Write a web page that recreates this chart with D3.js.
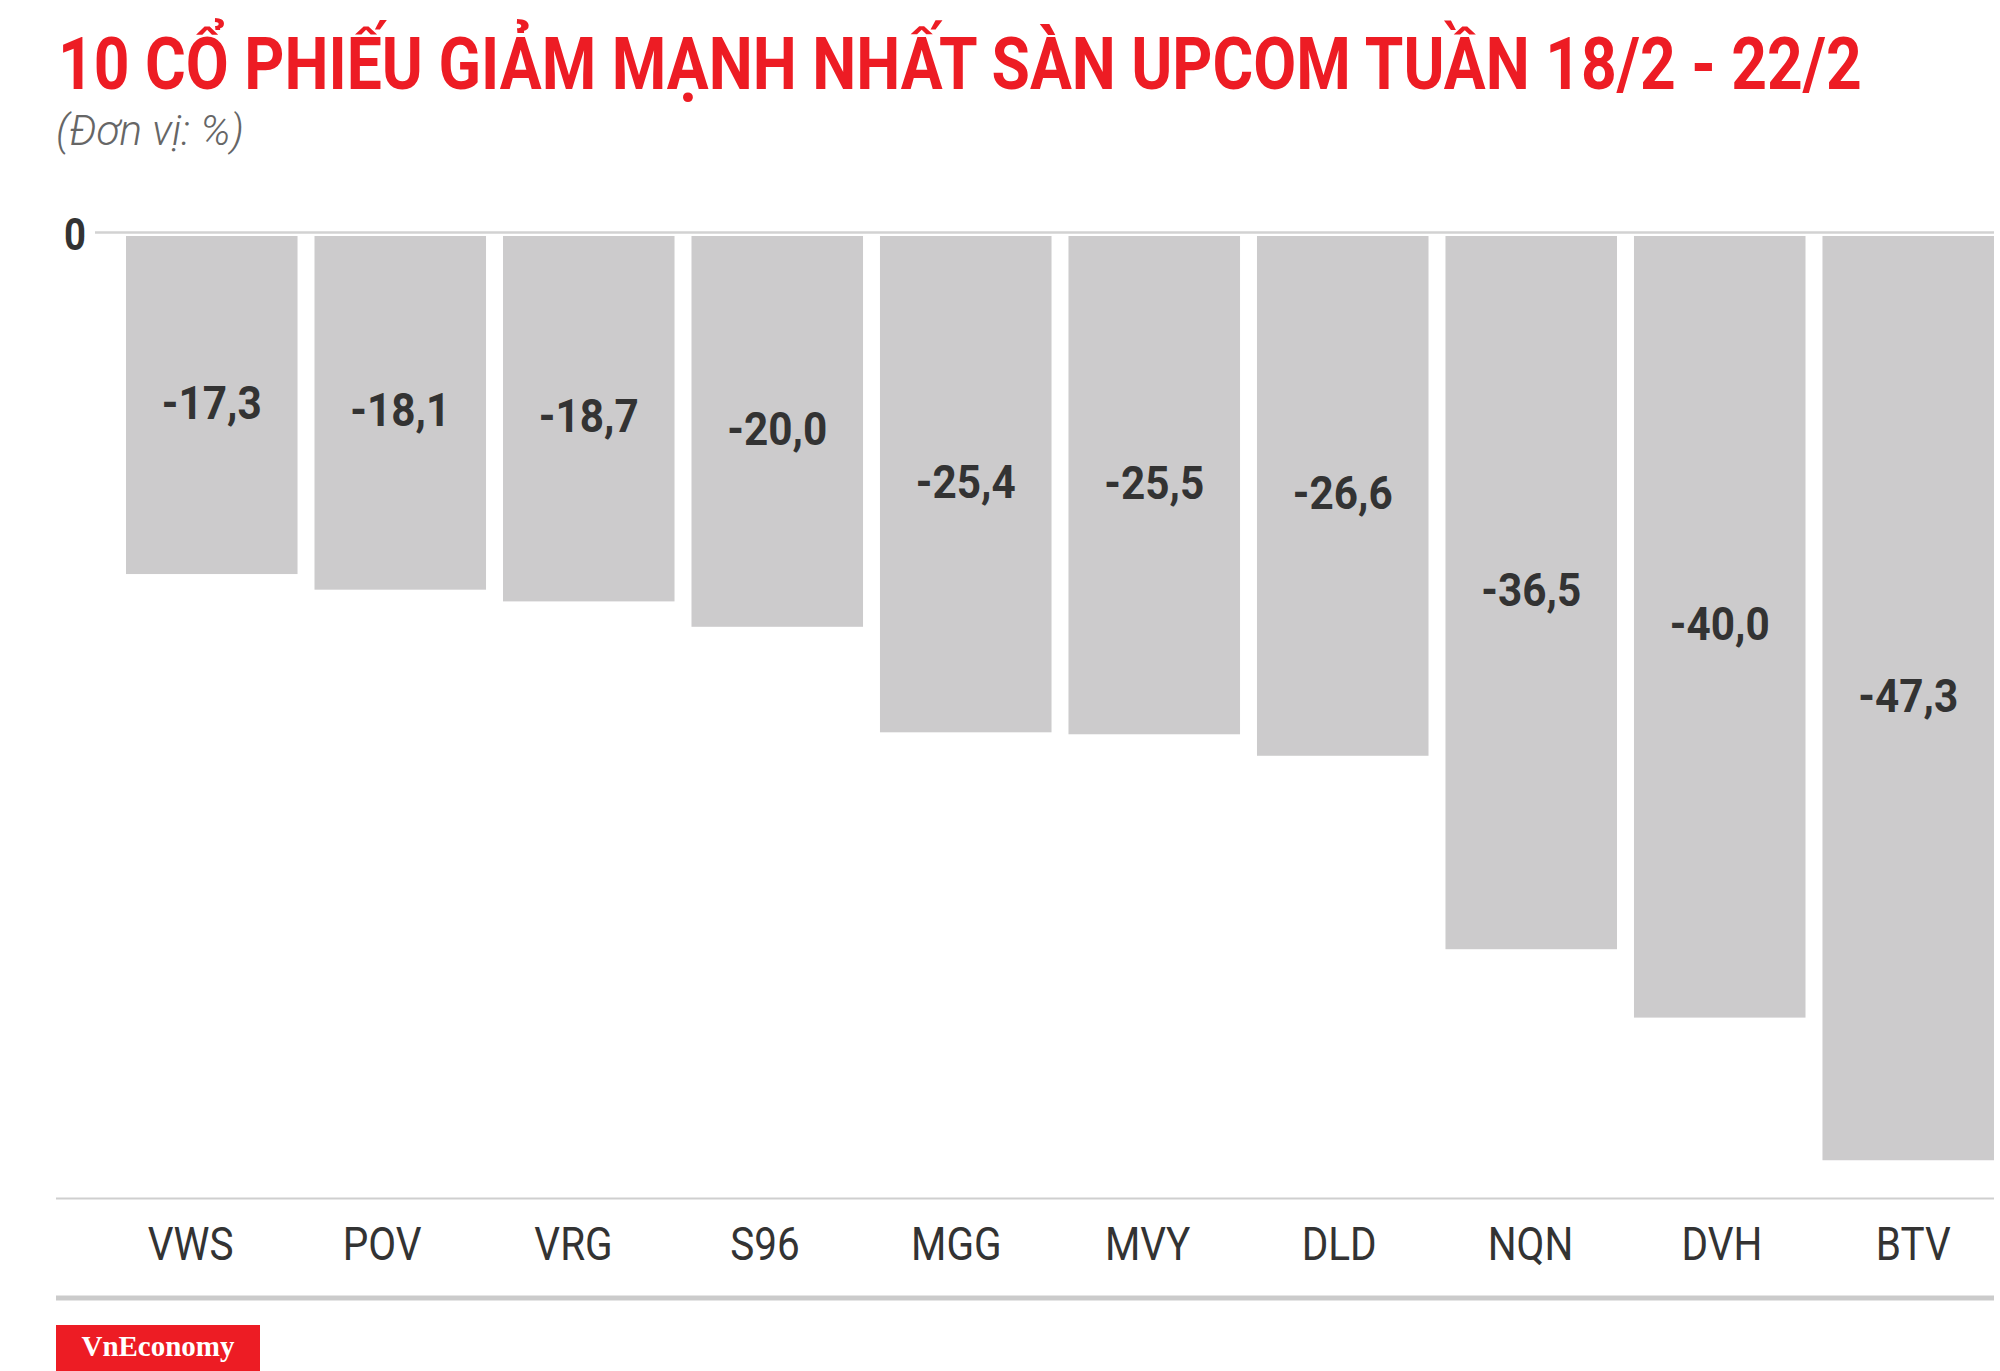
<!DOCTYPE html>
<html>
<head>
<meta charset="utf-8">
<script src="https://cdn.jsdelivr.net/npm/d3@7"></script>
<style>
  html, body { margin: 0; padding: 0; background: #fff; }
  svg { display: block; }
</style>
</head>
<body>
<svg id="chart" width="2000" height="1371"></svg>
<script>
const categories = ["VWS", "POV", "VRG", "S96", "MGG", "MVY", "DLD", "NQN", "DVH", "BTV"];
const values = [-17.3, -18.1, -18.7, -20.0, -25.4, -25.5, -26.6, -36.5, -40.0, -47.3];
const valueLabels = ["-17,3", "-18,1", "-18,7", "-20,0", "-25,4", "-25,5", "-26,6", "-36,5", "-40,0", "-47,3"];
const yTicks = [0];
const titleText = "10 CỔ PHIẾU GIẢM MẠNH NHẤT SÀN UPCOM TUẦN 18/2 - 22/2";
const subtitleText = "(Đơn vị: %)";
const brandText = "VnEconomy";

const svg = d3.select("#chart");

// bar positions
const x = d3.scaleBand()
  .domain(categories)
  .range([126, 1994])
  .paddingInner(0.09)
  .paddingOuter(0);

// category axis spans the full plot area
const xAxisScale = d3.scaleBand()
  .domain(categories)
  .range([95, 2009]);

const y = d3.scaleLinear()
  .domain([0, -50])
  .range([236, 236 + 19.54 * 50]);

// fit a text to a given width by horizontal scaling
function fitWidth(sel, x0, y0, w) {
  const len = sel.node().getComputedTextLength();
  sel.attr("transform", `translate(${x0},${y0}) scale(${w / len},1)`);
}

// Title
const title = svg.append("text")
  .attr("font-family", "Roboto, 'Noto Sans', sans-serif")
  .attr("font-weight", 700)
  .attr("font-size", 72)
  .attr("fill", "#ed1c24")
  .text(titleText);
fitWidth(title, 58, 89, 1804);

// Subtitle
const sub = svg.append("text")
  .attr("font-family", "Roboto, 'Noto Sans', sans-serif")
  .attr("font-style", "italic")
  .attr("font-weight", 300)
  .attr("font-size", 42)
  .attr("fill", "#666")
  .text(subtitleText);
fitWidth(sub, 56, 145, 188);

// Zero line
svg.append("line")
  .attr("x1", 95).attr("x2", 1994)
  .attr("y1", y(0) - 3.5).attr("y2", y(0) - 3.5)
  .attr("stroke", "#d2d2d2")
  .attr("stroke-width", 2.5);

// Y tick label "0"
svg.selectAll("text.ytick")
  .data(yTicks)
  .join("text")
  .attr("class", "ytick")
  .attr("transform", d => `translate(64,${y(d) + 14}) scale(0.85,1)`)
  .attr("font-family", "Roboto, sans-serif")
  .attr("font-weight", 700)
  .attr("font-size", 45)
  .attr("fill", "#333")
  .text(d => d3.format("d")(d));

// Bars
svg.selectAll("rect.bar")
  .data(values)
  .join("rect")
  .attr("class", "bar")
  .attr("x", (d, i) => x(categories[i]))
  .attr("y", y(0))
  .attr("width", x.bandwidth())
  .attr("height", d => y(d) - y(0))
  .attr("fill", "#cccbcc");

// Value labels
svg.selectAll("text.val")
  .data(values)
  .join("text")
  .attr("class", "val")
  .attr("transform", (d, i) =>
    `translate(${x(categories[i]) + x.bandwidth() / 2},${(y(0) + y(d)) / 2 - 3}) scale(0.92,1)`)
  .attr("dy", "0.36em")
  .attr("text-anchor", "middle")
  .attr("font-family", "Roboto, sans-serif")
  .attr("font-weight", 700)
  .attr("font-size", 46)
  .attr("fill", "#333")
  .text((d, i) => valueLabels[i]);

// Axis line
svg.append("line")
  .attr("x1", 56).attr("x2", 1994)
  .attr("y1", 1198.5).attr("y2", 1198.5)
  .attr("stroke", "#cfcfcf")
  .attr("stroke-width", 2);

// Category axis
const xAxis = d3.axisBottom(xAxisScale).tickSize(0).tickPadding(0);
const gx = svg.append("g")
  .attr("transform", "translate(0,1260)")
  .call(xAxis);
gx.select(".domain").remove();
gx.selectAll(".tick text")
  .attr("y", 0)
  .attr("dy", 0)
  .attr("transform", "scale(0.88,1)")
  .attr("font-family", "Roboto, sans-serif")
  .attr("font-weight", 400)
  .attr("font-size", 46)
  .attr("fill", "#333");

// Bottom thick line
svg.append("line")
  .attr("x1", 56).attr("x2", 1994)
  .attr("y1", 1298).attr("y2", 1298)
  .attr("stroke", "#cbcbcb")
  .attr("stroke-width", 5);

// Brand box
svg.append("rect")
  .attr("x", 56).attr("y", 1325)
  .attr("width", 204).attr("height", 46)
  .attr("fill", "#ed1c24");
svg.append("text")
  .attr("x", 158).attr("y", 1356)
  .attr("text-anchor", "middle")
  .attr("font-family", "'Liberation Serif', 'Times New Roman', serif")
  .attr("font-weight", 700)
  .attr("font-size", 29)
  .attr("fill", "#fff")
  .text(brandText);
</script>
</body>
</html>
